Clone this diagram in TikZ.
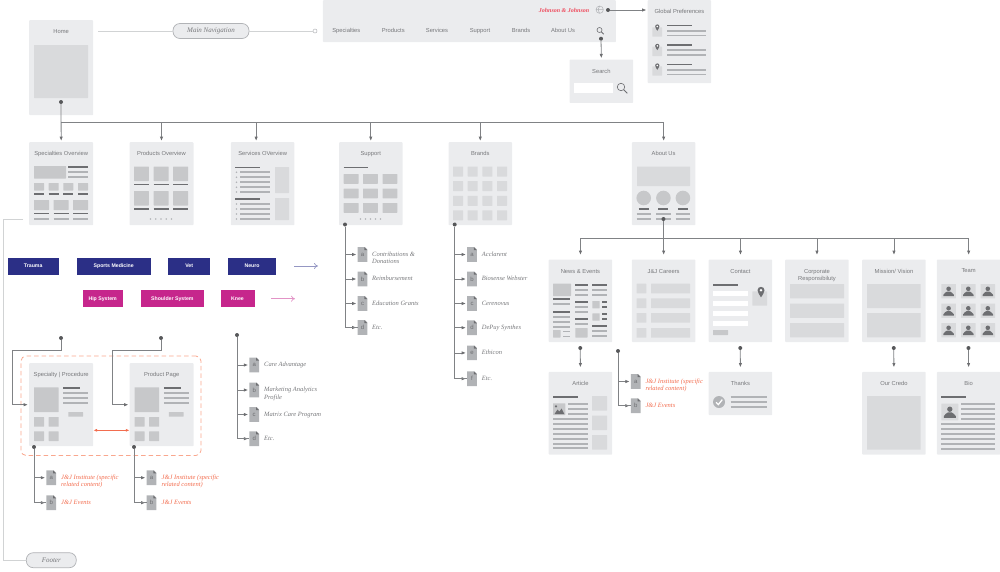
\documentclass[tikz,border=0pt]{standalone}
\usepackage{fontspec}
\setmainfont{Liberation Sans}
\newfontfamily\leaffont{Liberation Serif}
\usetikzlibrary{arrows.meta}

\definecolor{cardgray}{HTML}{EBECEE}
\definecolor{blockgray}{HTML}{C7C8CA}
\definecolor{softgray}{HTML}{D9DADC}
\definecolor{bardark}{HTML}{6D6E71}
\definecolor{barsoft}{HTML}{B1B3B6}
\definecolor{textgray}{HTML}{77787B}
\definecolor{linegray}{HTML}{808285}
\definecolor{softline}{HTML}{D1D3D4}
\definecolor{navyblue}{HTML}{2B2F86}
\definecolor{magentatag}{HTML}{C6268C}
\definecolor{orangetext}{HTML}{F26D4F}
\definecolor{orangedash}{HTML}{F9A78E}
\definecolor{logored}{HTML}{EE4A5C}

% Page card with its title
\newcommand{\pagecard}[6]{%
\node[card, minimum width=#4pt, minimum height=#5pt] (#1) at (#2,#3) {};
\node[pagetitle] (#1title) at ([yshift=-9.5pt]#1.north) {#6};
}

% Document icon with a letter
\newcommand{\docicon}[4]{%
\fill[docfill] (#2-4.8,#3-7.3) -- (#2+2.6,#3-7.3) -- (#2+4.8,#3-5) -- (#2+4.8,#3+7.3) -- (#2-4.8,#3+7.3) -- cycle;
\fill[bardark] (#2+1.9,#3-7.3) -- (#2+4.8,#3-4.4) -- (#2+1.9,#3-4.4) -- cycle;
\node[docletter] (#1) at (#2,#3) {#4};
}

% Location pin, point at the bottom
\newcommand{\pinicon}[3]{%
\begin{scope}[shift={(#1,#2)},scale=#3]
\fill[bardark] (-2.5,0) arc[start angle=180, end angle=360, radius=2.5] .. controls (2.5,1.8) and (0.8,3.5) .. (0,5) .. controls (-0.8,3.5) and (-2.5,1.8) .. (-2.5,0) -- cycle;
\fill[white] (0,0) circle (1);
\end{scope}
}

% Person on a square
\newcommand{\personicon}[3]{%
\begin{scope}[shift={(#1,#2)},scale=#3]
\fill[softblock] (-7.3,-7.2) rectangle (7.3,7.2);
\fill[bardark] (0,-2.4) circle (2.3);
\fill[bardark] (-5.2,5) -- (-5.2,3.6) .. controls (-5.2,1.6) and (-2,1.5) .. (-1.5,0.3) -- (1.5,0.3) .. controls (2,1.5) and (5.2,1.6) .. (5.2,3.6) -- (5.2,5) -- cycle;
\end{scope}
}

% Magnifier
\newcommand{\magicon}[3]{%
\begin{scope}[shift={(#1,#2)},scale=#3]
\draw[bardark, line width=0.6pt] (0,0) circle (2.5);
\draw[bardark, line width=1pt] (1.8,1.8) -- (4.2,4.2);
\end{scope}
}

\begin{document}
\begin{tikzpicture}[x=1pt, y=-1pt,
	card/.style={anchor=north west, fill=cardgray, rounded corners=0.8pt, inner sep=0pt},
	pagetitle/.style={anchor=north, inner sep=0pt, align=center, text=textgray, font=\fontsize{5.8}{7}\selectfont},
	navlabel/.style={anchor=base, inner sep=0pt, text=textgray, font=\fontsize{5.8}{7}\selectfont},
	block/.style={fill=blockgray, rounded corners=0.4pt},
	softblock/.style={fill=softgray, rounded corners=0.4pt},
	darkbar/.style={draw=bardark, line width=1.8pt},
	softbar/.style={draw=barsoft, line width=1.8pt},
	docfill/.style={fill=barsoft},
	docletter/.style={inner sep=0pt, minimum width=9.6pt, minimum height=14.6pt, text=bardark, font=\fontsize{6}{7}\selectfont},
	leaf/.style={anchor=north west, inner sep=0pt, align=left, text=textgray, font=\leaffont\itshape\fontsize{6.5}{7.2}\selectfont},
	hotleaf/.style={leaf, text=orangetext},
	link/.style={draw=linegray, line width=0.8pt, -{Latex[length=4.4pt, width=3.4pt, color=bardark]}, shorten >=1pt},
	gaplink/.style={link, shorten >=4.3pt},
	trunk/.style={draw=linegray, line width=0.8pt},
	thread/.style={draw=softline, line width=0.8pt},
	dotmark/.style={circle, fill=bardark!80!black, inner sep=0pt, minimum size=4pt},
	opendot/.style={circle, draw=barsoft, fill=white, line width=0.5pt, inner sep=0pt, minimum size=4pt},
	pill/.style={draw=barsoft, fill=cardgray, line width=0.7pt, rounded corners=7pt, inner sep=0pt, minimum height=15pt, text=textgray, font=\leaffont\itshape\fontsize{7}{8}\selectfont},
	bluetag/.style={anchor=west, fill=navyblue, text=white, inner sep=0pt, minimum height=17pt, font=\bfseries\fontsize{5.2}{6}\selectfont},
	pinktag/.style={bluetag, fill=magentatag},
	opentip/.style={line width=0.7pt, -{To[length=4pt, width=6pt]}},
	dashbox/.style={draw=orangedash, line width=0.8pt, dash pattern=on 4.5pt off 3pt, rounded corners=5pt, inner sep=0pt, minimum width=180pt, minimum height=99.5pt}
]
\useasboundingbox (0,0) rectangle (1000,571);

% Home and top navigation
\pagecard{home}{29}{20}{64}{95}{Home}
\fill[softblock] (34,45) rectangle (88,98);

\node[card, minimum width=293pt, minimum height=42pt] (topnav) at (322.7,0) {};
\foreach \n/\x/\txt in {navspec/346.3/Specialties, navprod/393.3/Products, navserv/437/Services, navsupp/480/Support, navbrand/521/Brands, navabout/563/About Us} {
\node[navlabel] (\n) at (\x,32.7) {\txt};
}
\node[inner sep=0pt, text=logored, font=\leaffont\bfseries\itshape\fontsize{6}{7}\selectfont] (logo) at (564,10) {Johnson \& Johnson};
\magicon{599.5}{30}{1}
\draw[barsoft, line width=0.5pt] (599.7,9.7) circle (3.7) (596,9.7) -- (603.4,9.7) (599.7,6) .. controls (597.5,8) and (597.5,11.5) .. (599.7,13.4);

\node[pill, minimum width=76pt] (mainnav) at (211,31) {Main Navigation};
\node[opendot] (navend) at (315,31) {};
\draw[thread, shorten <=5pt] (home.east |- mainnav.west) -- (mainnav.west);
\draw[thread] (mainnav.east) -- (navend);

% Global preferences
\pagecard{globalpref}{647.5}{0}{63.5}{83}{Global Preferences}
\foreach \y in {0,19.4,39} {
\fill[softblock] (652.3,27.3+\y) rectangle (662,36.7+\y);
\pinicon{657.3}{26.5+\y}{0.85}
\draw[darkbar] (667,25.5+\y) -- (691.7,25.5+\y);
\draw[softbar] (667,30.6+\y) -- (706.3,30.6+\y);
\draw[softbar] (667,35.4+\y) -- (706.3,35.4+\y);
}

% Search
\pagecard{search}{569.3}{59.3}{63.7}{43.4}{Search}
\fill[white] (574,83) rectangle (613,93);
\magicon{621}{87}{1.5}

% First row of overview pages
\pagecard{specov}{29}{142}{64}{83}{Specialties Overview}
\pagecard{prodov}{129.3}{142}{64}{83}{Products Overview}
\pagecard{svcov}{230.7}{142}{63.5}{83}{Services OVerview}
\pagecard{supportov}{338.8}{142}{63.5}{83}{Support}
\pagecard{brandsov}{448.3}{142}{63.5}{83}{Brands}
\pagecard{aboutov}{631.7}{142}{63.5}{83}{About Us}

% Specialties overview content
\fill[block] (34,166) rectangle (66,178.5);
\draw[darkbar] (68,167) -- (88,167);
\foreach \y in {172,177} {\draw[softbar] (68,\y) -- (88,\y);}
\foreach \x in {34,48.7,63.3,78} {
\fill[block] (\x,183) rectangle (\x+10,190.5);
\draw[darkbar] (\x,194) -- (\x+10,194);
}
\foreach \x in {34,53.5,73} {
\fill[block] (\x,200) rectangle (\x+15,210);
\draw[darkbar] (\x,213.5) -- (\x+15,213.5);
\draw[softbar] (\x,219) -- (\x+15,219);
}

% Products overview content
\foreach \x in {134,153.7,173.2} {\foreach \y in {166.5,191} {
\fill[block] (\x,\y) rectangle (\x+14.8,\y+14.5);
\draw[darkbar] (\x,\y+18) -- (\x+14.8,\y+18);
}}
\foreach \x in {150.5,155.7,161,166.2,171.5} {\fill[barsoft] (\x,219) circle (0.9);}

% Services overview content
\draw[darkbar] (235,167.5) -- (260,167.5);
\draw[darkbar] (235,199.3) -- (260,199.3);
\foreach \y in {172.3,177.3,182.3,187.3,192,204,209,214,219} {
\fill[barsoft] (236.5,\y) circle (0.9);
\draw[softbar] (240,\y) -- (270,\y);
}
\fill[softblock] (275,167) rectangle (289,193);
\fill[softblock] (275,198) rectangle (289,220);

% Support content
\draw[darkbar] (343.7,167.5) -- (368,167.5);
\foreach \x in {343.7,363,382.5} {\foreach \y in {174,188.5,203} {\fill[block] (\x,\y) rectangle (\x+14.8,\y+9.8);}}
\foreach \x in {360.5,365.5,370.5,375.5,380.5} {\fill[barsoft] (\x,219) circle (0.9);}

% Brands content
\foreach \x in {453,467.7,482.4,497} {\foreach \y in {166.5,181,195.8,210.3} {\fill[softblock] (\x,\y) rectangle (\x+10,\y+10);}}

% About us content
\fill[softblock] (637,166.5) rectangle (690,186);
\foreach \x in {643.7,663.4,682.9} {
\fill[blockgray] (\x,198) circle (7.3);
\draw[darkbar] (\x-5,209) -- (\x+5,209);
\draw[softbar] (\x-7.2,214) -- (\x+7.2,214);
\draw[softbar] (\x-7.2,219) -- (\x+7.2,219);
}

% Second row of about pages
\pagecard{news}{548.5}{259.3}{63.5}{82.7}{News \& Events}
\pagecard{careers}{631.7}{259.3}{63.5}{82.7}{J\&J Careers}
\pagecard{contact}{708.5}{259.3}{63.5}{82.7}{Contact}
\pagecard{corporate}{785}{259.3}{63.5}{82.7}{Corporate\\Responsibiluty}
\pagecard{mission}{862}{259.3}{63.5}{82.7}{Mission/ Vision}
\pagecard{team}{936.7}{259.3}{63.5}{82.7}{Team}

% News content
\fill[block] (553,283.7) rectangle (571,296);
\foreach \y in {299.3,311.7} {\draw[darkbar] (553,\y) -- (570.3,\y);}
\foreach \y in {304.3,316.7,321.7,326.7} {\draw[softbar] (553,\y) -- (570.3,\y);}
\fill[block] (553,330) rectangle (560.5,337.5);
\foreach \y in {331.5,336.5} {\draw[softbar] (563.3,\y) -- (570.3,\y);}
\foreach \y in {284.7,302,319} {\draw[darkbar] (575.3,\y) -- (587.5,\y);}
\foreach \y in {289.7,294.7,307,312,324} {\draw[softbar] (575.3,\y) -- (587.5,\y);}
\fill[block] (575.3,328) rectangle (587.5,337.5);
\foreach \y in {284.7,326.3} {\draw[darkbar] (592,\y) -- (607,\y);}
\foreach \y in {289.7,294.7,331,336} {\draw[softbar] (592,\y) -- (607,\y);}
\foreach \y in {301,313.3} {
\fill[block] (592.3,\y) rectangle (599.7,\y+7.4);
\draw[darkbar] (602,\y+1) -- (607,\y+1);
\draw[darkbar] (602,\y+6) -- (607,\y+6);
}

% Careers content
\foreach \y in {283.7,298.4,313,328} {
\fill[softblock] (636.5,\y) rectangle (646.3,\y+9.7);
\fill[softblock] (651,\y) rectangle (690,\y+9.7);
}

% Contact content
\draw[darkbar] (713,284.7) -- (737.7,284.7);
\foreach \y in {291,300.8,310.7,320.5} {\fill[white] (713,\y) rectangle (747.5,\y+5);}
\fill[block] (713,330) rectangle (728,335);
\fill[softblock] (752.3,291.3) rectangle (767,305.7);
\pinicon{761}{290.3}{1.4}

% Corporate, mission and team content
\foreach \y in {284,303.5,323} {\fill[softblock] (790,\y) rectangle (844,\y+14.4);}
\fill[softblock] (867,284) rectangle (920.7,308);
\fill[softblock] (867,313) rectangle (920.7,337.3);
\foreach \x in {948.6,968.3,987.8} {\foreach \y in {291.2,310.7,330.2} {\personicon{\x}{\y}{1}}}

% Third row of about pages
\pagecard{article}{548.5}{371.7}{63.5}{82.7}{Article}
\pagecard{thanks}{708.5}{371.7}{63.5}{43.3}{Thanks}
\pagecard{credo}{862}{371.7}{63.5}{82.7}{Our Credo}
\pagecard{bio}{936.7}{371.7}{63.5}{82.7}{Bio}

% Article content
\draw[darkbar] (553,397) -- (577.7,397);
\fill[block] (553,403.3) rectangle (565.3,415);
\fill[bardark] (554.5,414) -- (557.5,409.5) -- (559.5,411.5) -- (561.5,408.5) -- (564.3,414) -- cycle;
\fill[bardark] (556,406.3) circle (1.2);
\foreach \y in {404,409,414} {\draw[softbar] (568,\y) -- (587.5,\y);}
\foreach \y in {419,424,429,433.7,438.7,443.7,448} {\draw[softbar] (553,\y) -- (587.5,\y);}
\foreach \y in {396,415.5,435} {\fill[softblock] (592,\y) rectangle (607,\y+14.6);}

% Thanks content
\fill[barsoft] (719,402) circle (6);
\draw[white, line width=1.3pt] (716,402.3) -- (718.3,404.6) -- (722.3,399.6);
\foreach \y in {397,402,406.7} {\draw[softbar] (730.5,\y) -- (767,\y);}

% Credo and bio content
\fill[softblock] (867,396) rectangle (920.7,449.7);
\draw[darkbar] (941.3,396.7) -- (966,396.7);
\personicon{949.8}{412}{1.16}
\foreach \y in {404,409,414,419} {\draw[softbar] (961,\y) -- (995,\y);}
\foreach \y in {424,429,434,439,444.2,449} {\draw[softbar] (941.3,\y) -- (995,\y);}

% Tags
\foreach \n/\x/\w/\txt in {trauma/7.3/51.4/Trauma, sportsmed/76.7/73.6/Sports Medicine, vet/168/42/Vet, neuro/228/47.7/Neuro} {
\node[bluetag, minimum width=\w pt] (\n) at (\x,266) {\txt};
}
\foreach \n/\x/\w/\txt in {hip/82.3/40.4/Hip System, shoulder/141/62.3/Shoulder System, knee/220.3/34/Knee} {
\node[pinktag, minimum width=\w pt] (\n) at (\x,298.7) {\txt};
}
\coordinate (bluestart) at (294,266);
\coordinate (blueend) at (318,266);
\coordinate (pinkstart) at (271,298.7);
\coordinate (pinkend) at (295,298.7);
\draw[opentip, navyblue!50!white] (bluestart) -- (blueend);
\draw[opentip, magentatag!50!white] (pinkstart) -- (pinkend);

% Specialty and product pages
\node[dashbox] (pagegroup) at (111,405.75) {};
\pagecard{specpage}{29}{363}{64}{83}{Specialty | Procedure}
\pagecard{prodpage}{129.5}{363}{64}{83}{Product Page}
\foreach \sx in {0,100.5} {
\begin{scope}[shift={(\sx,0)}]
\fill[block] (34,387.3) rectangle (58.7,412);
\draw[darkbar] (63.3,388) -- (80.3,388);
\foreach \y in {393.3,398,403} {\draw[softbar] (63.3,\y) -- (88,\y);}
\fill[block] (68.3,412) rectangle (83,416.7);
\foreach \x in {34,48.7} {\foreach \y in {417,431.3} {\fill[block] (\x,\y) rectangle (\x+10,\y+9.7);}}
\end{scope}
}

% Dots where connectors leave a page
\node[dotmark] (homeout) at (61,102) {};
\node[dotmark] (navsearch) at (601,38.7) {};
\node[dotmark] (navglobal) at (608,10) {};
\node[dotmark] (supportout) at (345,224.5) {};
\node[dotmark] (brandsout) at (454.7,224.5) {};
\node[dotmark] (aboutout) at (663.45,219) {};
\node[dotmark] (newsout) at (580.25,348) {};
\node[dotmark] (contactout) at (740.25,348) {};
\node[dotmark] (missionout) at (893.75,348) {};
\node[dotmark] (teamout) at (968.45,348) {};
\node[dotmark] (newsrel) at (618,351) {};
\node[dotmark] (specin) at (61,338) {};
\node[dotmark] (prodin) at (161,338) {};
\node[dotmark] (specout) at (34,447) {};
\node[dotmark] (prodout) at (134,447) {};
\node[dotmark] (svcout) at (237,335) {};

% Connectors of the top navigation
\draw[link] (navglobal) -- (globalpref.west |- navglobal);
\draw[link] (navsearch) -- (search.north);

% Home to overview pages
\coordinate (topbus) at (61,122.5);
\coordinate (svcin) at ([xshift=-6.5pt]svcov.north);
\draw[link] (homeout) -- (specov.north);
\draw[link] (topbus) -| (aboutov.north);
\foreach \pg in {prodov.north, svcin, supportov.north, brandsov.north} {
\draw[link] (topbus -| \pg) -- (\pg);
}

% About us to its pages
\coordinate (aboutbus) at (663.45,238.7);
\draw[trunk] (aboutout) -- (aboutbus);
\draw[gaplink] (aboutbus) -| (news.north);
\draw[gaplink] (aboutbus) -| (team.north);
\foreach \pg in {careers, contact, corporate, mission} {
\draw[gaplink] (aboutbus -| \pg.north) -- (\pg.north);
}

% Second row to third row
\draw[gaplink] (newsout) -- (article.north);
\draw[gaplink] (contactout) -- (thanks.north);
\draw[gaplink] (missionout) -- (credo.north);
\draw[gaplink] (teamout) -- (bio.north);

% Support list
\foreach \m/\y/\txt in {a/254.5/{Contributions \&\\Donations}, b/279/Reimbursement, c/303.5/Education Grants, d/327.5/Etc.} {
\docicon{supp\m}{362.5}{\y}{\m}
\node[leaf] (supp\m text) at (372,\y-2.8) {\txt};
\draw[link] (supportout |- supp\m.west) -- (supp\m.west);
}
\draw[trunk] (supportout) |- (suppd.west);

% Brands list
\foreach \m/\y/\txt in {a/254.5/Acclarent, b/279/Biosense Webster, c/303.5/Cerenovus, d/327.7/DePuy Synthes, e/352.9/Ethicon, f/378.7/Etc.} {
\docicon{brand\m}{472}{\y}{\m}
\node[leaf] (brand\m text) at (481.7,\y-2.8) {\txt};
\draw[link] (brandsout |- brand\m.west) -- (brand\m.west);
}
\draw[trunk] (brandsout) |- (brandf.west);

% News related content
\foreach \m/\y/\txt in {a/381.5/{J\&J Institute (specific\\related content)}, b/405.7/J\&J Events} {
\docicon{rel\m}{635.7}{\y}{\m}
\node[hotleaf] (rel\m text) at (645.3,\y-2.8) {\txt};
\draw[link] (newsrel |- rel\m.west) -- (rel\m.west);
}
\draw[trunk] (newsrel) |- (relb.west);

% Services list
\foreach \m/\y/\txt in {a/365/Care Advantage, b/390/{Marketing Analytics\\Profile}, c/414.5/Matrix Care Program, d/438.7/Etc.} {
\docicon{svc\m}{254.2}{\y}{\m}
\node[leaf] (svc\m text) at (264,\y-2.8) {\txt};
\draw[link] (svcout |- svc\m.west) -- (svc\m.west);
}
\draw[trunk] (svcout) |- (svcd.west);

% Specialty page connectors and related content
\coordinate (specturn) at (12,350);
\draw[link] (specin) |- (specturn) |- (specpage.west);
\foreach \m/\y/\txt in {a/477.7/{J\&J Institute (specific\\related content)}, b/502.7/J\&J Events} {
\docicon{specrel\m}{51.2}{\y}{\m}
\node[hotleaf] (specrel\m text) at (61,\y-2.8) {\txt};
\draw[link] (specout |- specrel\m.west) -- (specrel\m.west);
}
\draw[trunk] (specout) |- (specrelb.west);

% Product page connectors and related content
\coordinate (prodturn) at (112,350);
\draw[link] (prodin) |- (prodturn) |- (prodpage.west);
\foreach \m/\y/\txt in {a/477.7/{J\&J Institute (specific\\related content)}, b/502.7/J\&J Events} {
\docicon{prodrel\m}{151.5}{\y}{\m}
\node[hotleaf] (prodrel\m text) at (161.5,\y-2.8) {\txt};
\draw[link] (prodout |- prodrel\m.west) -- (prodrel\m.west);
}
\draw[trunk] (prodout) |- (prodrelb.west);

% Between the two pages
\coordinate (relatemid) at (111,430.3);
\draw[orangetext, line width=0.7pt, {Latex[length=3.6pt, width=3pt]}-{Latex[length=3.6pt, width=3pt]}] (specpage.east |- relatemid) -- (prodpage.west |- relatemid);

% Footer
\node[pill, minimum width=50pt] (footer) at (51.3,560.2) {Footer};
\coordinate (footstart) at (23,219);
\coordinate (footturn) at (3.7,560.2);
\draw[thread] (footstart) -| (footturn) -- (footer.west);

\end{tikzpicture}
\end{document}
